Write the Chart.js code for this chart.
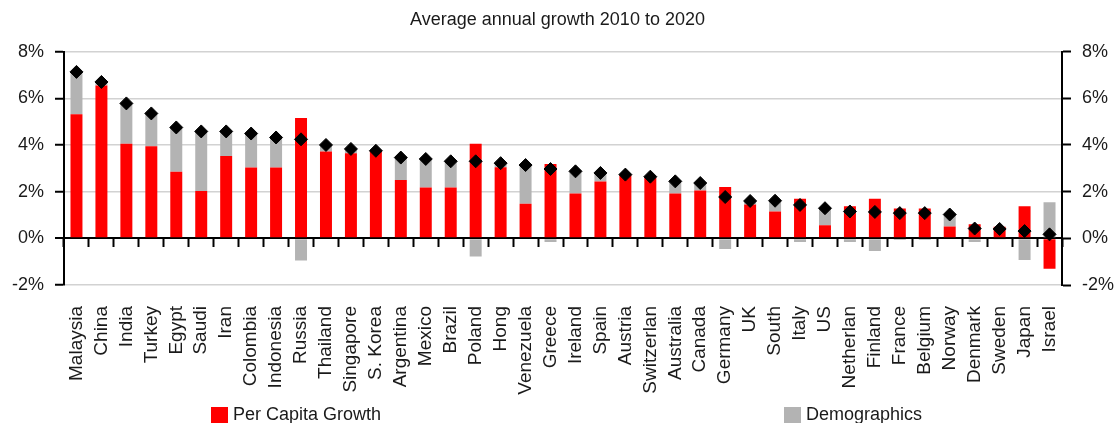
<!DOCTYPE html>
<html>
<head>
<meta charset="utf-8">
<script src="https://cdn.jsdelivr.net/npm/chart.js@4"></script>
<style>
    body { margin: 0; background: #fff; font-family: "Liberation Sans", Arial, sans-serif; }
    #wrap { position: relative; width: 1115px; height: 423px; }
    .legend-item { position: absolute; top: 403px; font-size: 18px; color: #1a1a1a; line-height: 22px; white-space: nowrap; }
    .legend-item i { display: inline-block; width: 17px; height: 16px; vertical-align: -3px; margin-right: 5px; }
</style>
</head>
<body>
<div id="wrap">
    <canvas id="growthChart" width="1115" height="423"></canvas>
    <div class="legend-item" style="left:211px"><i style="background:#ff0000"></i>Per Capita Growth</div>
    <div class="legend-item" style="left:784px"><i style="background:#b3b3b3"></i>Demographics</div>
</div>
<script>
const countries = ['Malaysia', 'China', 'India', 'Turkey', 'Egypt', 'Saudi', 'Iran', 'Colombia', 'Indonesia', 'Russia',
    'Thailand', 'Singapore', 'S. Korea', 'Argentina', 'Mexico', 'Brazil', 'Poland', 'Hong', 'Venezuela', 'Greece',
    'Ireland', 'Spain', 'Austria', 'Switzerlan', 'Australia', 'Canada', 'Germany', 'UK', 'South', 'Italy',
    'US', 'Netherlan', 'Finland', 'France', 'Belgium', 'Norway', 'Denmark', 'Sweden', 'Japan', 'Israel'];

const perCapitaGrowth = [5.32, 6.55, 4.05, 3.95, 2.85, 2.03, 3.53, 3.03, 3.03, 5.15,
    3.72, 3.64, 3.74, 2.50, 2.18, 2.18, 4.05, 3.05, 1.48, 3.18,
    1.92, 2.43, 2.72, 2.59, 1.92, 2.05, 2.20, 1.45, 1.15, 1.70,
    0.56, 1.37, 1.70, 1.28, 1.28, 0.51, 0.60, 0.50, 1.37, -1.30];

const demographics = [1.83, 0.15, 1.75, 1.42, 1.90, 2.55, 1.05, 1.45, 1.30, -0.95,
    0.30, 0.20, 0.02, 0.97, 1.22, 1.12, -0.78, 0.18, 1.68, -0.16,
    0.95, 0.37, 0.02, 0.07, 0.52, 0.33, -0.46, 0.14, 0.46, -0.16,
    0.74, -0.16, -0.54, -0.07, -0.07, 0.52, -0.16, -0.05, -0.93, 1.55];

const totalGrowth = [7.13, 6.70, 5.78, 5.35, 4.75, 4.58, 4.58, 4.49, 4.32, 4.24,
    4.00, 3.83, 3.75, 3.46, 3.40, 3.30, 3.30, 3.22, 3.14, 2.97,
    2.87, 2.80, 2.73, 2.64, 2.44, 2.37, 1.77, 1.60, 1.61, 1.43,
    1.29, 1.15, 1.13, 1.08, 1.08, 1.02, 0.42, 0.40, 0.31, 0.17];

const yTicks = [-2, 0, 2, 4, 6, 8];

const font = { family: '"Liberation Sans", Arial, sans-serif', size: 18 };
const textColor = '#1a1a1a';

const pctTicks = {
    color: textColor,
    font: font,
    padding: 11,
    callback: (v) => v + '%'
};

new Chart(document.getElementById('growthChart').getContext('2d'), {
    data: {
        labels: countries,
        datasets: [
            {
                type: 'line',
                label: 'Total',
                data: totalGrowth,
                showLine: false,
                pointStyle: 'rectRot',
                pointRadius: 6.5,
                pointBackgroundColor: '#000',
                pointBorderColor: '#000',
                pointBorderWidth: 1,
                order: 0
            },
            {
                type: 'bar',
                label: 'Per Capita Growth',
                data: perCapitaGrowth,
                backgroundColor: '#ff0000',
                barPercentage: 0.48,
                categoryPercentage: 1,
                order: 1
            },
            {
                type: 'bar',
                label: 'Demographics',
                data: demographics,
                backgroundColor: '#b3b3b3',
                barPercentage: 0.48,
                categoryPercentage: 1,
                order: 1
            }
        ]
    },
    options: {
        responsive: false,
        animation: false,
        layout: { padding: 0 },
        plugins: {
            legend: { display: false },
            tooltip: { enabled: false },
            title: {
                display: true,
                text: 'Average annual growth 2010 to 2020',
                color: textColor,
                font: { family: font.family, size: 18, weight: 'normal' },
                padding: { top: 9, bottom: 21 }
            }
        },
        scales: {
            x: {
                stacked: true,
                grid: { display: false, drawTicks: false },
                border: { display: false },
                ticks: {
                    color: textColor,
                    font: { family: font.family, size: 19 },
                    minRotation: 90,
                    maxRotation: 90,
                    autoSkip: false,
                    padding: 21
                },
                afterFit: (scale) => { scale.height = 138; }
            },
            // axis line with tick marks sitting on the 0% level
            xZero: {
                type: 'category',
                position: { y: 0 },
                offset: true,
                grid: {
                    offset: true,
                    drawOnChartArea: false,
                    drawTicks: true,
                    tickLength: 8,
                    tickColor: '#000',
                    tickWidth: 2
                },
                border: { display: true, color: '#000', width: 2 },
                ticks: { display: false, autoSkip: false },
                afterFit: (scale) => { scale.height = 0; }
            },
            y: {
                stacked: true,
                position: 'left',
                min: -2,
                max: 8,
                afterBuildTicks: (scale) => { scale.ticks = yTicks.map(v => ({ value: v })); },
                grid: {
                    color: (ctx) => ctx.tick && ctx.tick.value === 0 ? '#000' : '#d2d2d2',
                    lineWidth: (ctx) => ctx.tick && ctx.tick.value === 0 ? 2 : 1.5,
                    tickColor: '#000',
                    tickLength: 9,
                    tickWidth: 2
                },
                border: { display: true, color: '#000', width: 2 },
                ticks: pctTicks,
                afterFit: (scale) => { scale.width = 64; }
            },
            y2: {
                position: 'right',
                min: -2,
                max: 8,
                afterBuildTicks: (scale) => { scale.ticks = yTicks.map(v => ({ value: v })); },
                grid: {
                    drawOnChartArea: false,
                    color: '#000',
                    tickLength: 9,
                    tickWidth: 2
                },
                border: { display: true, color: '#000', width: 2 },
                ticks: pctTicks,
                afterFit: (scale) => { scale.width = 53; }
            }
        }
    }
});
</script>
</body>
</html>
